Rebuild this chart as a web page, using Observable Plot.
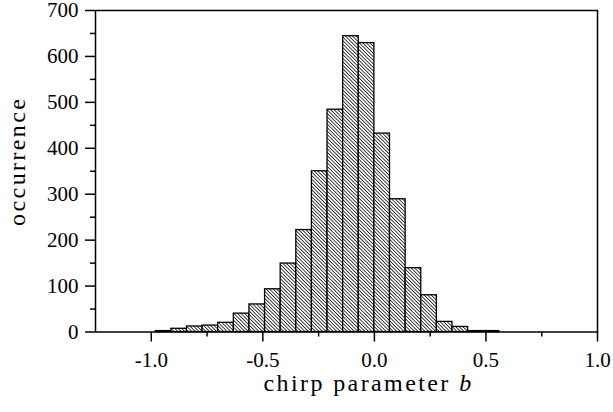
<!DOCTYPE html>
<html><head><meta charset="utf-8">
<script src="https://cdn.jsdelivr.net/npm/d3@7"></script>
<script src="https://cdn.jsdelivr.net/npm/@observablehq/plot@0.6"></script>
<style>
body{margin:0;background:#fff}
#chart svg, #chart svg text, #chart svg tspan { font-family: "Liberation Serif", "Times New Roman", serif !important; }
</style>
</head><body><div id="chart"></div>
<script>
// Histogram of chirp parameter b (bin edges and counts)
const binEdges = [-0.98,-0.91,-0.84,-0.77,-0.70,-0.63,-0.56,-0.49,-0.42,-0.35,-0.28,-0.21,-0.14,-0.07,0,0.07,0.14,0.21,0.28,0.35,0.42,0.49,0.56];
const counts   = [2,7,12,14,20,40,60,93,149,222,350,484,644,629,432,289,139,80,22,11,2,2];
const xMajorTicks = [-1.0,-0.5,0.0,0.5,1.0];
const xMinorTicks = [-0.75,-0.25,0.25,0.75];
const yMajorTicks = [0,100,200,300,400,500,600,700];
const yMinorTicks = [50,150,250,350,450,550,650];
const xLabelText = "chirp parameter ";
const xLabelVar = "b";
const yLabelText = "occurrence";

const bins = counts.map((c, i) => ({x1: binEdges[i], x2: binEdges[i + 1], count: c}));

const hatchDefs = () => {
  const defs = d3.create("svg:defs");
  const p = defs.append("pattern")
    .attr("id", "hatch").attr("patternUnits", "userSpaceOnUse")
    .attr("width", 4).attr("height", 2.5)
    .attr("patternTransform", "rotate(45)");
  p.append("rect").attr("width", 4).attr("height", 2.5).attr("fill", "white");
  p.append("line").attr("x1", 0).attr("x2", 4).attr("y1", 1.25).attr("y2", 1.25)
    .attr("stroke", "black").attr("stroke-width", 0.8);
  return defs.node();
};

const plot = Plot.plot({
  width: 613,
  height: 412,
  marginLeft: 95,
  marginRight: 16,
  marginTop: 10,
  marginBottom: 80.5,
  style: {fontSize: "21px", color: "black", background: "white"},
  x: {domain: [-1.25, 1.0]},
  y: {domain: [0, 700]},
  marks: [
    hatchDefs,
    Plot.rectY(bins, {x1: "x1", x2: "x2", y: "count", fill: "url(#hatch)", stroke: "black", strokeWidth: 1.3}),
    Plot.frame({strokeWidth: 1.5}),
    Plot.axisX({ticks: xMajorTicks, tickSize: 10, tickPadding: 10, strokeWidth: 1.5, fontSize: 21,
      tickFormat: d => d.toFixed(1), label: null}),
    Plot.axisX({ticks: xMinorTicks, tickSize: 5, strokeWidth: 1.5, fill: "none", label: null}),
    Plot.axisY({ticks: yMajorTicks, tickSize: 10, tickPadding: 7, strokeWidth: 1.5, fontSize: 21,
      tickFormat: d => String(d), label: null}),
    Plot.axisY({ticks: yMinorTicks, tickSize: 5, strokeWidth: 1.5, fill: "none", label: null}),
    Plot.text([xLabelText + xLabelVar], {text: d => d, frameAnchor: "bottom", dy: 59, dx: 22,
      fontSize: 24, lineAnchor: "bottom", textAnchor: "middle"}),
    Plot.text([yLabelText], {text: d => d, frameAnchor: "left", dx: -78, dy: -10, rotate: -90,
      fontSize: 24, lineAnchor: "middle", textAnchor: "middle"})
  ]
});

// italic variable and letter spacing for the axis titles
d3.select(plot).selectAll("text").each(function() {
  const t = d3.select(this);
  const s = this.textContent;
  if (s === xLabelText + xLabelVar) {
    t.text(null).attr("letter-spacing", "2.4px");
    t.append("tspan").text(xLabelText);
    t.append("tspan").attr("font-style", "italic").text(xLabelVar);
  } else if (s === yLabelText) {
    t.attr("letter-spacing", "2.4px");
  }
});

document.getElementById("chart").appendChild(plot);
</script>
</body></html>
